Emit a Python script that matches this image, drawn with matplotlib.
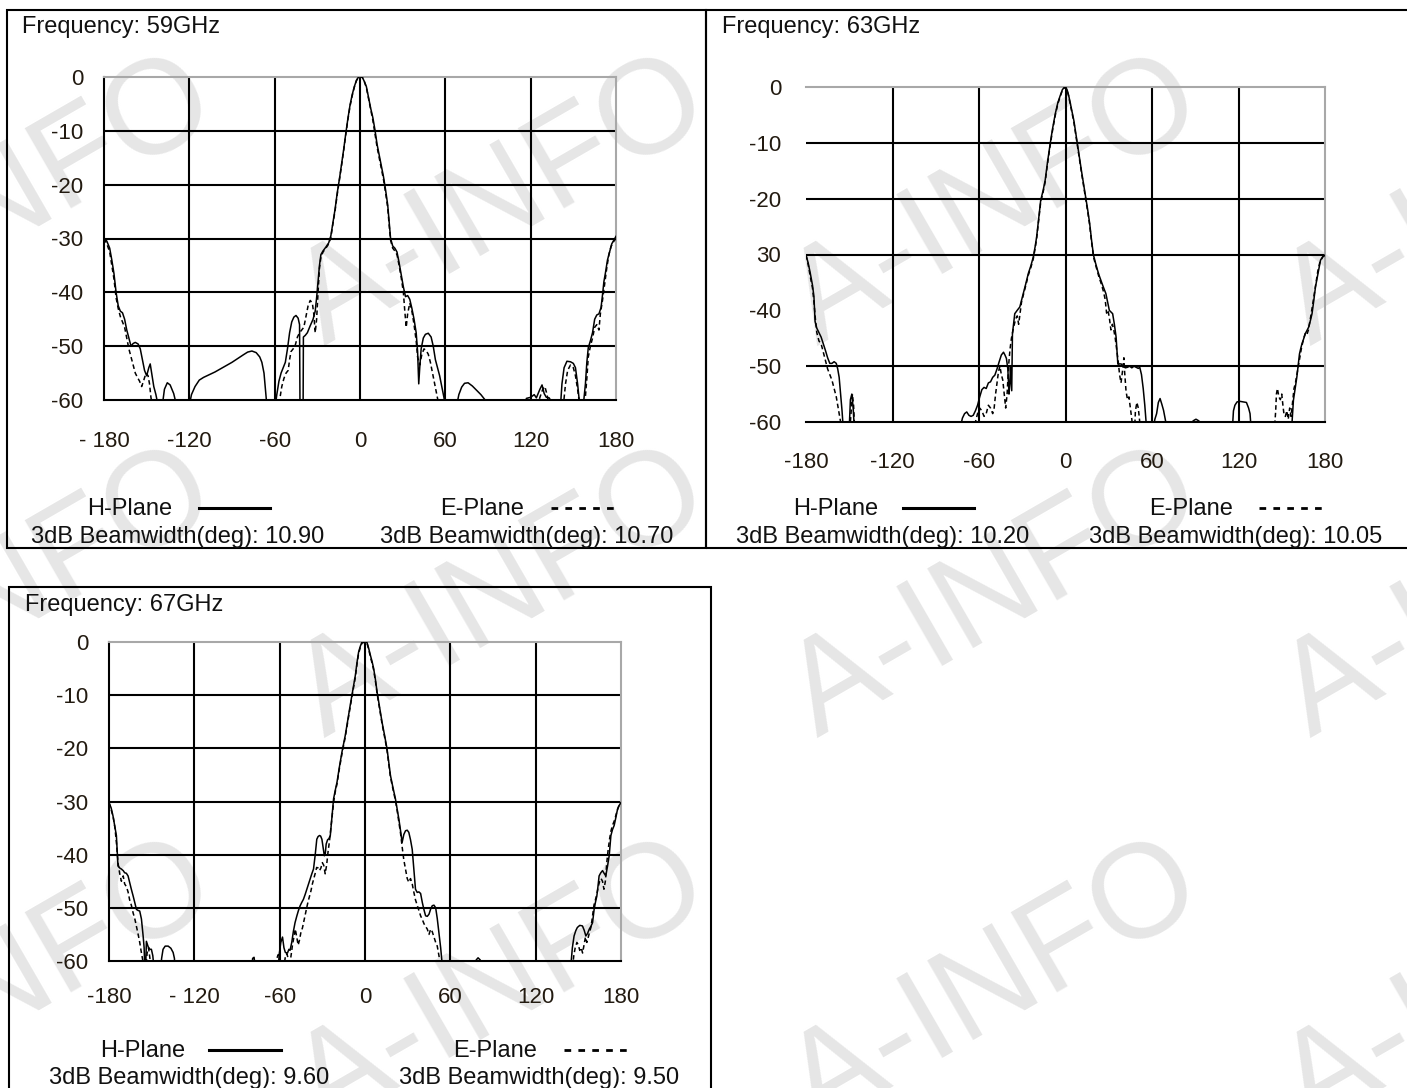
import matplotlib.pyplot as plt
from matplotlib.lines import Line2D
from matplotlib.patches import Rectangle

# measured radiation patterns, (angle deg, level dB); -61 means below the chart floor
h59 = [(-180, -29.9), (-178, -30.5), (-176, -31.8), (-174.5, -34), (-173, -36.5), (-171.5, -40),
       (-170, -42.5), (-168.5, -43.5), (-167, -43.8), (-165.5, -45), (-164, -47), (-162.5, -48.5),
       (-161, -50), (-159.5, -49.5), (-158, -49.3), (-156, -49.6), (-154.5, -50.5), (-153, -52.5),
       (-151.5, -54.5), (-150, -55.5), (-148.5, -54), (-147.5, -53.3), (-146.5, -55), (-145, -57.5),
       (-143.5, -59), (-142, -61), (-139, -61), (-137.5, -58), (-135.5, -56.8), (-133.5, -57.2),
       (-131, -58.8), (-129, -61), (-120, -61), (-118.5, -59), (-116, -57.5), (-113, -56.3),
       (-110, -55.8), (-106, -55.3), (-102, -54.8), (-98, -54.2), (-94, -53.6), (-90, -53),
       (-86, -52.3), (-82, -51.6), (-79, -51.1), (-76, -50.9), (-73, -51.2), (-70.5, -52),
       (-69, -53), (-67.5, -55), (-66.5, -58), (-65.5, -61), (-59.5, -61), (-58.5, -59),
       (-57, -56.5), (-55.5, -55), (-54, -54), (-52.5, -53), (-51, -50.5), (-49.5, -47.5),
       (-48, -45.5), (-46.5, -44.6), (-45, -44.3), (-43.5, -44.8), (-42.5, -46), (-42.2, -61),
       (-40, -61), (-39.8, -48.3), (-38.5, -48), (-37, -47.5), (-35, -46.2), (-33, -45),
       (-31.5, -43.5), (-30.5, -41), (-29.5, -38), (-28.5, -35), (-27.5, -33), (-26, -32.3),
       (-24, -31.6), (-22, -30.8), (-20.5, -29.5), (-19, -27), (-17.5, -24.5), (-16, -21.5),
       (-14.5, -19), (-13, -16.3), (-11.5, -13.5), (-10, -10.5), (-8.5, -7.7), (-7, -5.2),
       (-5.5, -3.3), (-4, -1.8), (-2.5, -0.6), (-1, 0), (1.5, 0), (3, -0.8), (4.5, -1.8),
       (6, -3.8), (7.5, -5.8), (9, -7.5), (10.5, -9.8), (12, -12.5), (13.5, -14.5), (15, -16.5),
       (16.5, -18.5), (18, -21), (19.5, -23.8), (20.5, -27), (21.5, -30), (23, -31.4),
       (24.5, -31.8), (26, -32.5), (27.5, -34.5), (29, -36.8), (30.5, -39), (32, -40.8),
       (33.5, -40.6), (35, -41.3), (36.5, -43), (38, -45), (39.5, -47.5), (40.5, -51),
       (41.3, -57), (42, -54), (43, -50.5), (44.5, -48.5), (46, -47.8), (48, -47.6), (50, -48.3),
       (51.5, -50), (53, -52.5), (54.5, -54), (56, -55.5), (57.5, -57.5), (59, -59.5), (60, -61),
       (68, -61), (69.5, -59), (71.5, -57.6), (73.5, -56.9), (76, -56.8), (79, -57.4),
       (82, -58.2), (85, -59), (88, -60), (90, -61), (116, -61), (117, -59.7), (120, -59.5),
       (122.5, -59), (124, -59.6), (126.5, -58), (128, -57.2), (129.5, -58.8), (131, -59.5),
       (133, -59.6), (135, -60.5), (141, -61), (142, -57), (143.5, -54), (145.5, -52.8),
       (148, -52.9), (150, -53.2), (151.5, -54), (153, -57), (154.5, -61), (157, -61),
       (158.5, -57), (159.5, -53), (160.5, -50.3), (162, -49), (163.5, -47.5), (165, -45),
       (166.5, -44.2), (168, -44), (169.5, -42.8), (170.5, -40.5), (171.5, -38), (172.5, -36.5),
       (174, -34), (175.5, -32.5), (177, -31), (178.5, -30.3), (180, -29.6)]

e59 = [(-180, -30), (-178, -31), (-176, -32.5), (-174.5, -35), (-173, -37.5), (-171.5, -41),
       (-170, -43), (-168.5, -44.5), (-167, -45.5), (-165.5, -46.5), (-164, -48.5), (-162.5, -50.5),
       (-161, -52), (-159.5, -53.5), (-158, -55), (-156.5, -55.8), (-155, -56.5), (-153.5, -57.5),
       (-152, -56.3), (-150.5, -55), (-149, -55.5), (-148, -57), (-147, -59.5), (-146, -61),
       (-58, -61), (-56.5, -60), (-55, -57.5), (-53.5, -56), (-52, -55), (-50.5, -54.5),
       (-49.5, -52.5), (-48.5, -51), (-47, -50.5), (-45.5, -49.8), (-44, -48.3), (-42.5, -47.5),
       (-41, -47), (-39.5, -46.5), (-38, -44.5), (-36.5, -42.5), (-35, -41.5), (-33.5, -42),
       (-32.5, -44), (-31.5, -47.5), (-30.5, -45), (-29.5, -40), (-28.5, -35.5), (-27.5, -33.5),
       (-26, -32.5), (-24, -31.8), (-22, -31), (-20.5, -29.8), (-19, -27.2), (-17.5, -24.8),
       (-16, -21.8), (-14.5, -19.2), (-13, -16.5), (-11.5, -13.7), (-10, -10.7), (-8.5, -7.9),
       (-7, -5.4), (-5.5, -3.5), (-4, -1.9), (-2.5, -0.7), (-1, 0), (1.5, 0), (3, -0.8),
       (4.5, -2), (6, -4), (7.5, -6), (9, -8), (10.5, -10.5), (12, -13), (13.5, -15), (15, -17),
       (16.5, -19), (18, -21.5), (19.5, -24.3), (20.5, -27.5), (21.5, -30.3), (23, -31.8),
       (24.5, -32.3), (26, -33), (27.5, -35), (29, -37.3), (30.5, -40), (31.5, -43.5),
       (32.5, -46.5), (33.5, -44), (35, -42), (36.5, -43.5), (38, -46), (39.5, -49), (40.5, -52),
       (42, -53.5), (43.5, -51.5), (45, -50.5), (46.5, -50.8), (48, -51.5), (49.5, -53),
       (51, -55), (52.5, -57), (54, -59), (55.5, -61), (125, -61), (126.5, -59.5), (128.5, -58),
       (130, -57.5), (131.5, -59), (133, -61), (143, -61), (144.5, -57), (146, -54.5),
       (148, -53.5), (150, -54), (151.5, -55.5), (153, -58), (154.5, -61), (158, -61),
       (159.5, -56), (160.5, -52), (162, -50), (163.5, -48.5), (165, -46.5), (166.5, -46),
       (168, -47), (169, -44), (170.5, -41.5), (172, -38.5), (173.5, -35.5), (175, -33),
       (176.5, -31.5), (178.5, -30.5), (180, -30)]

h63 = [(-180, -30.1), (-178.5, -31.5), (-177, -33.4), (-175.5, -35.5), (-174.5, -37.5),
       (-173.7, -42), (-172.5, -43.2), (-171, -44), (-169.5, -44.8), (-168, -46), (-166.5, -47.2),
       (-165, -48.5), (-163.5, -49.5), (-162, -49.5), (-160.5, -49.2), (-159, -49.5),
       (-158, -50.5), (-157, -52), (-156, -55), (-155, -58), (-154.2, -61), (-150, -61),
       (-149.2, -56), (-148.2, -55), (-147.3, -57.5), (-146.5, -61), (-73, -61), (-71.5, -59.3),
       (-70, -58.5), (-68.5, -58.2), (-67, -58.8), (-65.5, -59), (-64, -58.8), (-62.5, -58),
       (-61, -57), (-59.5, -55.5), (-58, -54.2), (-56.5, -53.8), (-55, -54), (-53.5, -53),
       (-52, -52.8), (-50.5, -52), (-49, -51.6), (-47.5, -50.5), (-46, -49.2), (-44.5, -48),
       (-43, -47.5), (-42, -48), (-41, -48.6), (-40, -50.5), (-39.2, -55), (-38.6, -53),
       (-38.2, -50.2), (-37.3, -54.4), (-36.8, -44.2), (-35.2, -40.6), (-33.5, -40),
       (-31.7, -39.4), (-30.5, -38.2), (-29.3, -37), (-27.5, -35.2), (-25.8, -33.4), (-24, -32),
       (-22.3, -30.4), (-21, -28.5), (-20, -26.8), (-18.6, -23.5), (-17.2, -20.3),
       (-15.5, -18.5), (-14.1, -16.7), (-12.5, -13.5), (-10.6, -10.1), (-9, -7.5), (-7.1, -4.8),
       (-5.3, -2.8), (-3.6, -1.5), (-2.2, -0.5), (-1.3, -0.2), (0, 0), (1.1, -0.5), (2.2, -1.5),
       (3.4, -3), (4.6, -4.5), (5.8, -6), (7, -8), (8.2, -10.1), (9.6, -12.5), (11, -14.9),
       (12.5, -17.3), (14, -19.7), (15.4, -22), (16.8, -24.5), (18.1, -27.5), (19.4, -30.1),
       (20.8, -31.5), (22.2, -32.8), (23.4, -33.8), (24.5, -34.6), (26.2, -35.8), (28, -37),
       (29.2, -38.5), (30.4, -40), (31.5, -40.3), (32.7, -40.6), (33.9, -42.5), (35.1, -44.8),
       (35.8, -47.5), (36.3, -49.6), (38.6, -49.6), (40, -50), (41.5, -50.3), (43, -50.2),
       (44.5, -50), (46, -50.3), (47.5, -50), (49, -50.2), (50.5, -50.4), (51.5, -50.2),
       (52.7, -51.5), (53.9, -54), (55, -57), (56.2, -61), (60.9, -61), (62, -59.5),
       (63.2, -58.5), (64.4, -56.5), (65.6, -55.8), (66.8, -56.8), (68, -57.9), (69.2, -59.5),
       (70.3, -61), (87, -61), (88.5, -59.8), (90.5, -59.5), (92.5, -59.8), (94.5, -61),
       (115.8, -61), (116.5, -58), (117.5, -57), (119, -56.4), (121, -56.3), (123.5, -56.4),
       (125.5, -56.5), (127, -57.5), (128, -58.5), (128.7, -61), (156.9, -61), (157.5, -58.5),
       (158.1, -56.1), (159.3, -54), (160.5, -51.9), (161.4, -49.8), (162.3, -47.8),
       (163.2, -46.8), (164, -46), (165.2, -45.1), (166.3, -44.2), (167.5, -43.6), (168.7, -43),
       (169.9, -41.8), (171, -40.6), (172.2, -38.3), (173.4, -35.8), (175.1, -33.5),
       (176.9, -31), (178.5, -30.4), (180, -30.1)]

e63 = [(-180, -30.1), (-178.5, -31.8), (-177, -34), (-175.5, -36), (-174.5, -38.5),
       (-173.5, -41.5), (-172.5, -44), (-171, -45.5), (-169.5, -46), (-168, -47.5),
       (-166.5, -49), (-165, -50.5), (-163.5, -51.5), (-162, -52.5), (-160.5, -54),
       (-159, -55.5), (-158, -57), (-157, -58.5), (-156, -60), (-155, -61), (-149.5, -61),
       (-148.5, -57.5), (-147.8, -55), (-147, -57), (-146.3, -61), (-64, -61), (-62.5, -60),
       (-61, -58.5), (-59.5, -57.5), (-58, -58), (-56.5, -59), (-55, -58.5), (-53.5, -57),
       (-52, -57.5), (-50.5, -58.5), (-49.5, -57.5), (-48.5, -55), (-47.5, -53), (-46.5, -51),
       (-45.5, -50), (-44.5, -51.5), (-43.5, -52.5), (-42.5, -55), (-41.5, -57.5), (-40.5, -55),
       (-39.5, -50), (-38.5, -47), (-37.5, -45), (-36, -43), (-34.5, -41.5), (-33.5, -41),
       (-32.5, -42.5), (-31.5, -40.5), (-30.5, -38.5), (-29.3, -37.3), (-27.5, -35.5),
       (-25.8, -33.7), (-24, -32.3), (-22.3, -30.7), (-21, -28.8), (-20, -27.1), (-18.6, -23.8),
       (-17.2, -20.6), (-15.5, -18.8), (-14.1, -17), (-12.5, -13.8), (-10.6, -10.4), (-9, -7.8),
       (-7.1, -5.1), (-5.3, -3), (-3.6, -1.7), (-2.2, -0.6), (-1, -0.2), (0, 0), (1.1, -0.6),
       (2.2, -1.7), (3.4, -3.2), (4.6, -4.8), (5.8, -6.3), (7, -8.3), (8.2, -10.4),
       (9.6, -12.8), (11, -15.2), (12.5, -17.6), (14, -20), (15.4, -22.3), (16.8, -24.8),
       (18.1, -27.8), (19.4, -30.4), (20.8, -31.8), (22.2, -33.1), (23.4, -34.2), (24.5, -35),
       (26.2, -36.5), (27.5, -38), (28.5, -40.5), (29.5, -40), (30.5, -41.5), (31.5, -43.5),
       (32.5, -42.5), (33.5, -43.5), (34.5, -45), (35.5, -47), (36.5, -49), (37.5, -51.5),
       (38.5, -53), (39.5, -51), (40.5, -48.5), (41, -51), (42, -54.5), (43, -56), (44, -55.5),
       (45, -57.5), (46, -59.5), (46.5, -61), (48, -61), (48.5, -58), (49.5, -56.5),
       (50.5, -57.5), (51.5, -60), (52.5, -61), (145, -61), (145.8, -58), (146.3, -55),
       (147, -54), (148, -55.5), (149, -56), (150, -55), (150.8, -57), (151.5, -58.5),
       (152.5, -59), (153.5, -58), (154.5, -59.5), (155.5, -57.5), (156.5, -59), (157.5, -56.5),
       (158.5, -54), (159.5, -53), (160.5, -51.5), (161.5, -50), (162.5, -48.5), (163.5, -47),
       (164.5, -45.8), (165.5, -44.8), (166.5, -44), (167.5, -44.3), (168.5, -43.5),
       (169.5, -42), (170.5, -40.5), (172, -38), (173.5, -35.5), (175, -33), (176.5, -31.3),
       (178.5, -30.4), (180, -30.1)]

h67 = [(-180, -30.2), (-178.5, -31.2), (-177.2, -32.7), (-176, -34.5), (-174.8, -36.4),
       (-173.7, -42.1), (-172.5, -42.5), (-171.3, -42.7), (-170, -43), (-169, -43.4),
       (-167.8, -43.5), (-166.6, -44), (-165.5, -45.2), (-164.3, -46.5), (-163, -47.8),
       (-161.9, -49), (-160.7, -50.3), (-159.5, -50.5), (-158.4, -50.6), (-157.2, -52.1),
       (-156, -55.3), (-155.3, -57.5), (-154.9, -61), (-154.2, -61), (-153.7, -56.3),
       (-152.5, -57.3), (-151.3, -57.8), (-150.2, -57.8), (-149.2, -59), (-148.5, -61),
       (-143.5, -61), (-143, -59.5), (-142, -57.8), (-140.5, -57.2), (-138.4, -57.2),
       (-136.5, -57.6), (-134.9, -58.4), (-134, -59.5), (-133.7, -61), (-79.5, -61),
       (-79, -59.5), (-78, -59.3), (-77.2, -61), (-61, -61), (-60.2, -58.5), (-59.2, -56.5),
       (-58, -55.5), (-57, -57.5), (-56, -58.4), (-54.5, -58.5), (-53.5, -57.8), (-52.7, -58),
       (-51.5, -56.5), (-50.4, -54.5), (-49.2, -52.8), (-48, -51.6), (-46.8, -50.5),
       (-45.6, -49.6), (-44.5, -49), (-43.3, -48.4), (-42.1, -47.5), (-40.9, -46.5),
       (-39.8, -45.6), (-38.6, -44.6), (-37.4, -43.6), (-36.2, -42.7), (-35, -40), (-33.9, -37.1),
       (-33, -36.6), (-32, -36.4), (-31.2, -36.5), (-30.3, -37.1), (-29.5, -38.5),
       (-28.6, -40.2), (-28, -40), (-27.3, -38), (-26.3, -37.2), (-25.4, -37), (-24.4, -36.4),
       (-23.3, -33), (-22.1, -29.5), (-21, -28), (-19.7, -26.4), (-18, -23.5), (-16.2, -20.7),
       (-15, -19.1), (-13.9, -17.6), (-12.2, -14.8), (-10.4, -11.9), (-8.6, -9.1), (-6.8, -6.3),
       (-5.6, -3.8), (-4.5, -1.9), (-3.3, -0.8), (-2.1, 0), (0, 0), (1.4, -0.1), (2.6, -1.2),
       (3.8, -2.5), (5, -3.7), (6.1, -5), (7.3, -7), (8.5, -9.4), (10.2, -12.2), (12, -15.1),
       (13.8, -17.6), (15.5, -20.1), (16.7, -22.6), (17.9, -25.1), (19.6, -27.3), (21.4, -29.5),
       (22.6, -31.4), (23.8, -33.3), (25, -35.5), (26.1, -37.7), (27.3, -36.2), (28.5, -35.5),
       (29.7, -35.4), (30.8, -35.8), (32, -37.2), (33.2, -39), (34.3, -42.5), (35.5, -46.5),
       (36.7, -47.1), (37.9, -47), (39.1, -47.3), (40.3, -49), (41.5, -50.4), (42.6, -51.5),
       (43.8, -51.6), (45, -51.2), (46.2, -50.2), (47.3, -49.6), (48.5, -49.5), (49.7, -50),
       (50.8, -52), (52, -54.7), (53.2, -57.5), (54.4, -61), (77.5, -61), (78.2, -59.8),
       (79.5, -59.4), (81, -59.8), (82, -61), (144.7, -61), (145.8, -57.5), (147, -55.3),
       (148.2, -54.3), (149.3, -53.7), (151, -53.3), (152.9, -53.4), (154.1, -54.2),
       (155.3, -55.3), (156.5, -54.8), (157.7, -54), (158.8, -53.5), (160, -52.8),
       (161.1, -50.3), (162, -49), (163, -47.8), (163.8, -46), (164.6, -44), (165.8, -43.4),
       (167, -43), (168.1, -43.5), (169.3, -44), (170.5, -42.2), (171.7, -40.2), (172.3, -38.3),
       (172.9, -36.4), (174, -35.3), (175.2, -34.5), (176.4, -33), (177.6, -31.4),
       (178.8, -30.7), (180, -30.2)]

e67 = [(-180, -30.2), (-178.5, -31.5), (-177, -33), (-175.8, -35), (-174.7, -38), (-173.7, -41.5),
       (-172.5, -43.5), (-171.3, -45), (-170, -44), (-169, -45.5), (-167.8, -46), (-166.6, -47),
       (-165.5, -48.5), (-164.3, -49.5), (-163, -51), (-161.9, -52), (-160.7, -53.5),
       (-159.5, -55), (-158.4, -56.5), (-157.5, -58), (-156.5, -59.5), (-155.5, -61),
       (-154, -61), (-153.2, -58.5), (-152.2, -57.5), (-151.5, -59), (-150.5, -61), (-63, -61),
       (-62, -59.5), (-61, -58.8), (-60, -59.5), (-59, -61), (-57, -61), (-56, -59.2),
       (-55, -58.6), (-54, -59.5), (-53, -61), (-52, -59), (-51, -57), (-50, -55.5), (-49, -54),
       (-48, -55.5), (-47, -57), (-46, -56), (-45, -54.5), (-44, -53.8), (-43, -52.5),
       (-42, -51.2), (-41, -50), (-40, -48.8), (-39, -47.8), (-38, -46.8), (-37, -45.5),
       (-36, -44.5), (-35, -43.5), (-34, -42.4), (-33, -42.5), (-32, -43), (-31, -42.5),
       (-30, -41.5), (-29, -42), (-28, -43.6), (-27, -42), (-26, -39.5), (-25, -37.5),
       (-24, -35), (-23, -32.5), (-22, -30), (-21, -28.3), (-19.7, -26.7), (-18, -23.8),
       (-16.2, -21), (-15, -19.4), (-13.9, -17.9), (-12.2, -15.1), (-10.4, -12.2), (-8.6, -9.4),
       (-6.8, -6.6), (-5.6, -4.1), (-4.5, -2.2), (-3.3, -1), (-2.1, -0.2), (0, 0), (1.4, -0.2),
       (2.6, -1.4), (3.8, -2.8), (5, -4), (6.1, -5.3), (7.3, -7.3), (8.5, -9.7), (10.2, -12.5),
       (12, -15.4), (13.8, -17.9), (15.5, -20.4), (16.7, -22.9), (17.9, -25.4), (19.6, -27.6),
       (21.4, -29.8), (22.6, -31.7), (23.8, -33.8), (25, -36), (26.1, -38.5), (27.3, -41),
       (28.5, -42.7), (29.7, -44.5), (30.8, -45.2), (32, -44.5), (33.2, -45.5), (34.3, -47),
       (35.5, -48.5), (36.7, -49.5), (37.9, -50.5), (39.1, -51.5), (40.3, -52.2), (41.5, -53),
       (42.6, -53.5), (43.8, -54), (45, -55), (46.2, -54), (47.3, -54.5), (48.5, -55.5),
       (49.7, -56.5), (50.8, -57.2), (52, -59), (53, -61), (146, -61), (146.8, -59),
       (147.8, -57.5), (149, -56.5), (150, -57), (151, -58), (152, -57.5), (153, -58.5),
       (154, -57), (155, -55.5), (156, -56.5), (157, -55.5), (158, -54.5), (159, -53.5),
       (160, -51.5), (161, -49.5), (162, -48.5), (163, -47.5), (164, -46), (165, -45),
       (166, -44.5), (167, -45), (168, -46.5), (169, -45), (170, -41.5), (171, -39), (172, -37),
       (173, -35.5), (174, -34.5), (175.5, -33.5), (177, -32), (178.5, -30.8), (180, -30.2)]

freqs = ["59GHz", "63GHz", "67GHz"]
bw_h = ["10.90", "10.20", "9.60"]
bw_e = ["10.70", "10.05", "9.50"]
x_ticks = [-180, -120, -60, 0, 60, 120, 180]
y_ticks = [0, -10, -20, -30, -40, -50, -60]
x_labels = [["- 180", "-120", "-60", "0", "60", "120", "180"],
            ["-180", "-120", "-60", "0", "60", "120", "180"],
            ["-180", "- 120", "-60", "0", "60", "120", "180"]]
y_labels = [["0", "-10", "-20", "-30", "-40", "-50", "-60"],
            ["0", "-10", "-20", "30", "-40", "-50", "-60"],
            ["0", "-10", "-20", "-30", "-40", "-50", "-60"]]

W, H = 1407, 1088
fig = plt.figure(figsize=(W / 100, H / 100), dpi=100)
fig.patch.set_facecolor("white")


def fx(x):
    return x / W


def fy(y):
    return 1 - y / H


TXT = dict(family="Liberation Sans", fontsize=17, color="#111111")
TICKFONT = ["Liberation Sans Narrow", "Liberation Sans"]

# watermark, behind everything
for wx in [-169, 324, 817, 1310]:
    for wy in [346, 738, 1130]:
        fig.text(fx(wx), fy(wy), "A-INFO", rotation=30, rotation_mode="anchor",
                 ha="left", va="baseline", fontsize=96, color="#e6e6e6",
                 family="Liberation Sans", zorder=-10)

# pixel layout of each panel
panels = [
    dict(box=(7, 10, 706, 548), ax=(104, 77, 616, 400), title=(22, 33), row1=515, row2=543,
         htxt=87, hline=(199, 270), etxt=440, eline=(551, 617), b1=31, b2=380,
         xpad=22, ypad=15, grid40=True, left=True),
    dict(box=(706, 10, 1415, 548), ax=(806, 87, 1325, 422), title=(722, 33), row1=515, row2=543,
         htxt=793, hline=(903, 974), etxt=1149, eline=(1259, 1324), b1=736, b2=1089,
         xpad=21.5, ypad=18, grid40=False, left=False),
    dict(box=(9, 587, 711, 1100), ax=(109, 642, 621, 961), title=(25, 611), row1=1057, row2=1084,
         htxt=100, hline=(209, 281), etxt=453, eline=(564, 628), b1=49, b2=399,
         xpad=18.5, ypad=15, grid40=True, left=True),
]
curves = [(h59, e59), (h63, e63), (h67, e67)]

for i, p in enumerate(panels):
    l, t, r, b = p["box"]
    fig.add_artist(Rectangle((fx(l), fy(b)), fx(r) - fx(l), fy(t) - fy(b),
                             transform=fig.transFigure, fill=False, ec="black", lw=1.5, zorder=1))
    al, at, ar, ab = p["ax"]
    ax = fig.add_axes([fx(al), fy(ab), fx(ar) - fx(al), fy(at) - fy(ab)])
    ax.set_facecolor("none")
    ax.set_xlim(-180, 180)
    ax.set_ylim(-60, 0)

    for xv in x_ticks[1:-1]:
        ax.axvline(xv, color="black", lw=1.5, zorder=1)
    for yv in y_ticks[1:-1]:
        if yv == -40 and not p["grid40"]:
            continue
        ax.axhline(yv, color="black", lw=1.5, zorder=1)

    hc, ec = curves[i]
    ax.plot([a for a, _ in ec], [d for _, d in ec], color="black", lw=1.1,
            linestyle=(0, (3, 2)), zorder=3)
    ax.plot([a for a, _ in hc], [d for _, d in hc], color="black", lw=1.1, zorder=4)

    for s in ["top", "right"]:
        ax.spines[s].set_color("#a8a8a8")
        ax.spines[s].set_linewidth(1.5)
    ax.spines["bottom"].set_color("black")
    ax.spines["bottom"].set_linewidth(1.5)
    ax.spines["left"].set_color("black")
    ax.spines["left"].set_linewidth(1.5)
    ax.spines["left"].set_visible(p["left"])

    ax.set_xticks(x_ticks)
    ax.set_xticklabels(x_labels[i])
    ax.set_yticks(y_ticks)
    ax.set_yticklabels(y_labels[i])
    ax.tick_params(axis="x", length=0, pad=p["xpad"])
    ax.tick_params(axis="y", length=0, pad=p["ypad"])
    for lab in ax.get_xticklabels() + ax.get_yticklabels():
        lab.set_family(TICKFONT)
        lab.set_fontsize(16)
        lab.set_color("#221a10")

    tx, ty = p["title"]
    fig.text(fx(tx), fy(ty), "Frequency: " + freqs[i], ha="left", va="baseline", **TXT)
    fig.text(fx(p["htxt"]), fy(p["row1"]), "H-Plane", ha="left", va="baseline", **TXT)
    fig.text(fx(p["etxt"]), fy(p["row1"]), "E-Plane", ha="left", va="baseline", **TXT)
    fig.text(fx(p["b1"]), fy(p["row2"]), "3dB Beamwidth(deg): " + bw_h[i], ha="left", va="baseline", **TXT)
    fig.text(fx(p["b2"]), fy(p["row2"]), "3dB Beamwidth(deg): " + bw_e[i], ha="left", va="baseline", **TXT)

    ly = p["row1"] - 7
    h0, h1 = p["hline"]
    fig.add_artist(Line2D([fx(h0), fx(h1)], [fy(ly), fy(ly)], transform=fig.transFigure,
                          color="black", lw=2.2))
    e0, e1 = p["eline"]
    fig.add_artist(Line2D([fx(e0), fx(e1)], [fy(ly), fy(ly)], transform=fig.transFigure,
                          color="black", lw=2.0, dashes=(2.4, 2.6)))

fig.savefig("out.png", dpi=100, facecolor="white")
